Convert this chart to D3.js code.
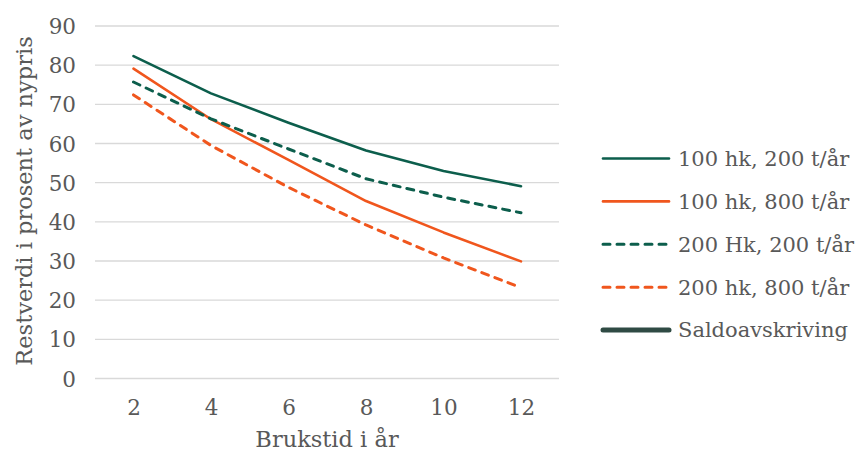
<!DOCTYPE html>
<html>
<head>
<meta charset="utf-8">
<script src="https://cdn.jsdelivr.net/npm/d3@7"></script>
<style>
  body { margin: 0; background: #fff; }
  text { font-family: "DejaVu Serif", serif; fill: #595959; }
  .grid line { stroke: #d9d9d9; stroke-width: 1.3; }
</style>
</head>
<body>
<div id="chart"></div>
<script>
 // data
 var years = [2, 4, 6, 8, 10, 12];
 var hk100_200 = [82.3, 72.8, 65.3, 58.2, 53.0, 49.1];
 var hk100_800 = [79.1, 66.2, 55.8, 45.3, 37.3, 29.9];
 var hk200_200 = [75.7, 66.3, 58.6, 51.0, 46.3, 42.3];
 var hk200_800 = [72.4, 59.5, 48.8, 39.2, 30.8, 23.2];
 var saldo = [];  // only shows in the legend
 var yTicks = [0, 10, 20, 30, 40, 50, 60, 70, 80, 90];

 var series = [
   { name: "100 hk, 200 t/år", values: hk100_200, color: "#0c5e4c", dash: null, width: 2.6 },
   { name: "100 hk, 800 t/år", values: hk100_800, color: "#f0561d", dash: null, width: 2.6 },
   { name: "200 Hk, 200 t/år", values: hk200_200, color: "#0c5e4c", dash: "7,7", width: 3 },
   { name: "200 hk, 800 t/år", values: hk200_800, color: "#f0561d", dash: "7,7", width: 3 },
   { name: "Saldoavskriving", values: saldo, color: "#2f4b44", dash: null, width: 5 }
 ];

 var width = 862;
 var height = 452;

 var svg = d3.select("#chart")
     .append("svg")
     .attr("width", width)
     .attr("height", height);

 // plot area
 var x = d3.scalePoint()
     .domain(years)
     .range([133.5, 521])
     .padding(0);

 var y = d3.scaleLinear()
     .domain([0, 90])
     .range([378.5, 26]);

 var left = 95, right = 559;

 // horizontal gridlines
 svg.append("g")
     .attr("class", "grid")
     .selectAll("line")
     .data(yTicks)
     .enter()
     .append("line")
     .attr("x1", left)
     .attr("x2", right)
     .attr("y1", function(d) { return y(d); })
     .attr("y2", function(d) { return y(d); });

 // y axis labels
 var yAxis = d3.axisLeft(y).tickValues(yTicks).tickSize(0).tickPadding(0);
 var yg = svg.append("g")
     .attr("transform", "translate(76,0)")
     .call(yAxis);
 yg.select(".domain").remove();
 yg.selectAll("text")
     .attr("font-size", 21.5)
     .attr("dy", "0.35em")
     .style("font-family", "DejaVu Serif, serif")
     .style("fill", "#595959");

 // x axis labels
 var xAxis = d3.axisBottom(x).tickSize(0).tickPadding(0);
 var xg = svg.append("g")
     .attr("transform", "translate(0,398)")
     .call(xAxis);
 xg.select(".domain").remove();
 xg.selectAll("text")
     .attr("font-size", 21.5)
     .attr("dy", "0.35em")
     .attr("y", 9)
     .style("font-family", "DejaVu Serif, serif")
     .style("fill", "#595959");

 // axis titles
 svg.append("text")
     .attr("x", 327)
     .attr("y", 439)
     .attr("text-anchor", "middle")
     .attr("dy", "0.35em")
     .attr("font-size", 22.5)
     .text("Brukstid i år");

 svg.append("text")
     .attr("transform", "translate(24,201) rotate(-90)")
     .attr("text-anchor", "middle")
     .attr("dy", "0.35em")
     .attr("font-size", 22.5)
     .text("Restverdi i prosent av nypris");

 // lines
 var line = d3.line()
     .x(function(d, i) { return x(years[i]); })
     .y(function(d) { return y(d); });

 svg.append("g")
     .selectAll("path")
     .data(series.filter(function(s) { return s.values.length; }))
     .enter()
     .append("path")
     .attr("d", function(s) { return line(s.values); })
     .attr("fill", "none")
     .attr("stroke", function(s) { return s.color; })
     .attr("stroke-width", function(s) { return s.width; })
     .attr("stroke-dasharray", function(s) { return s.dash; })
     .attr("stroke-linecap", "round")
     .attr("stroke-linejoin", "round");

 // legend
 var legend = svg.append("g")
     .selectAll("g")
     .data(series)
     .enter()
     .append("g")
     .attr("transform", function(s, i) { return "translate(0," + (158.5 + i * 42.9) + ")"; });

 legend.append("line")
     .attr("x1", 603)
     .attr("x2", 669)
     .attr("stroke", function(s) { return s.color; })
     .attr("stroke-width", function(s) { return s.width; })
     .attr("stroke-dasharray", function(s) { return s.dash; })
     .attr("stroke-linecap", "round");

 legend.append("text")
     .attr("x", 678)
     .attr("dy", "0.35em")
     .attr("font-size", 21)
     .text(function(s) { return s.name; });
</script>
</body>
</html>
